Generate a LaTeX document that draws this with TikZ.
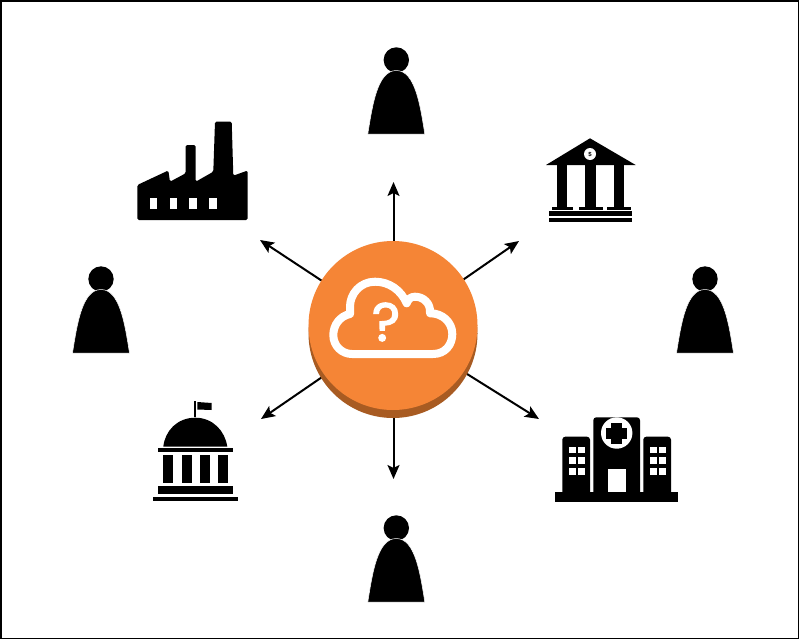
\documentclass[tikz,border=0pt]{standalone}
\usepackage{fontspec}
\setmainfont{Liberation Sans}
\newfontfamily\qfont[FakeBold=2.2]{Poppins}
\usetikzlibrary{arrows.meta}
\definecolor{huborange}{HTML}{F58536}
\definecolor{hubdark}{HTML}{A85B22}
\tikzset{
  x=1pt,y=-1pt,
  frame/.style={draw=black,line width=1.6pt},
  link/.style={draw=black,line width=2pt,-{Stealth[length=14pt,width=12pt,inset=3pt]}},
  ink/.style={fill=black,draw=none},
  soft/.style={fill=black,draw=none,rounded corners=1.5pt},
  hubdisc/.style={circle,fill=huborange,minimum size=169pt,inner sep=0pt},
  hubbase/.style={circle,fill=hubdark,minimum size=169pt,inner sep=0pt},
  cloudline/.style={draw=white,line width=8pt,line join=round,fill=none},
  person/.pic={
    \fill[black] (0,0) circle (12.7);
    \path[fill=black,draw=white,line width=0.5pt]
      (-28.5,74) .. controls (-24,46) and (-19,10.5) .. (0,10.5)
      .. controls (19,10.5) and (24,46) .. (28.5,74) -- cycle;
  }
}
\begin{document}
\begin{tikzpicture}
\useasboundingbox (0,0) rectangle (800,640);
\fill[white] (0,0) rectangle (800,640);
\draw[frame] (1,1) rectangle (798.5,638.5);

% hub
\coordinate (tipN) at (393.5,182);
\coordinate (tipNE) at (519,241);
\coordinate (tipNW) at (260,240);
\coordinate (tipSW) at (261,419);
\coordinate (tipSE) at (539,419);
\coordinate (tipS) at (393.5,479);
\node[circle,minimum size=170pt,inner sep=0pt] (hubarea) at (393.5,328) {};
\draw[link] (hubarea) -- (tipN);
\draw[link] (hubarea) -- (tipNE);
\draw[link] (hubarea) -- (tipNW);
\draw[link] (hubarea) -- (tipSW);
\draw[link] (hubarea) -- (tipSE);
\draw[link] (hubarea) -- (tipS);
\node[hubbase] (hubshadow) at (393,333.5) {};
\node[hubdisc] (hub) at (393,325.5) {};

% cloud
\draw[cloudline] (360,354) -- (433,354)
  .. controls (445,354) and (452.3,345) .. (452.3,334)
  .. controls (452.3,322) and (442,313) .. (430,313.3)
  .. controls (431,303) and (423,296.7) .. (415,296.7)
  .. controls (411,296.7) and (408,299) .. (406.7,303.3)
  .. controls (401,290) and (389,281.7) .. (375,281.7)
  .. controls (360,281.7) and (350,294) .. (350,306.7)
  -- (350,314)
  .. controls (340,316) and (333.3,325) .. (333.3,335)
  .. controls (333.3,346) and (342,354) .. (352,354) -- cycle;
\node[text=white,font=\qfont\fontsize{54pt}{54pt}\selectfont,inner sep=0pt] (question) at (386,322) {?};

% people
\pic at (396.3,60) {person};
\pic at (101,279) {person};
\pic at (705,279) {person};
\pic at (396.3,528) {person};

% factory
\path[soft] (137.3,220) -- (137.3,185) -- (168.3,170.5) -- (170,181.7) -- (185.7,173.3)
  -- (185.7,145) -- (195.7,145) -- (195.7,181.7) -- (213.3,171.7)
  -- (215,121.7) -- (231.7,121.7) -- (233.3,175.7) -- (247.7,170.5) -- (247.7,220) -- cycle;
\fill[white] (150,198.3) rectangle (156.7,209);
\fill[white] (169.5,198.3) rectangle (176.7,209);
\fill[white] (189.2,198.3) rectangle (196.7,209);
\fill[white] (208.7,198.3) rectangle (216.7,209);

% bank
\path[ink] (590,138.3) -- (635.7,165) -- (546,165) -- cycle;
\node[circle,fill=white,minimum size=12pt,inner sep=0pt,font=\bfseries\fontsize{6pt}{6pt}\selectfont] (coin) at (590,154) {\$};
\path[ink] (556.7,165) rectangle (566.7,207);
\path[ink] (585,165) rectangle (596,207);
\path[ink] (614,165) rectangle (624,207);
\path[ink] (551.7,206.7) rectangle (572.7,210);
\path[ink] (579.3,206.7) rectangle (602.7,210);
\path[ink] (607.3,206.7) rectangle (630.7,210);
\path[ink] (549.3,211) rectangle (631.7,216);
\path[ink] (549.3,217.7) rectangle (631.7,222.3);

% capitol
\draw[black,line width=1.3pt] (195,401) -- (195,417);
\path[ink] (197.3,402) -- (211.7,403) -- (211.7,410) -- (197.3,409.5) -- cycle;
\path[ink] (163.3,446.7) .. controls (165,431) and (177,417.7) .. (195.3,417.7)
  .. controls (213,417.7) and (225,431) .. (227.3,446.7) -- cycle;
\path[ink] (158.3,448.3) rectangle (232.7,452.3);
\path[ink] (163.3,455) rectangle (173.3,483.3);
\path[ink] (181.7,455) rectangle (191.7,483.3);
\path[ink] (200,455) rectangle (210,483.3);
\path[ink] (218.3,455) rectangle (228.3,483.3);
\path[ink] (158.3,485.7) rectangle (232.7,494);
\path[ink] (152.7,496.7) rectangle (238.3,501);

% hospital
\path[ink,rounded corners=3pt] (593.3,495) -- (593.3,417.3) -- (640,417.3) -- (640,495) -- cycle;
\path[ink,rounded corners=3pt] (562.3,495) -- (562.3,436.7) -- (590,436.7) -- (590,495) -- cycle;
\path[ink,rounded corners=3pt] (643.3,495) -- (643.3,436.7) -- (671,436.7) -- (671,495) -- cycle;
\path[ink] (555,492.3) rectangle (678.3,501.7);
\fill[white] (616.7,433) circle (15.7);
\path[ink] (611.2,422.5) rectangle (622.2,443.5);
\path[ink] (606.2,427.5) rectangle (627.2,438.5);
\fill[white] (607.7,469.3) rectangle (626,491.7);
\foreach \wx in {569,578.3,650,659.3}
  \foreach \wy in {446.7,457.3,468.3}
    \fill[white] (\wx,\wy) rectangle ++(6.7,6.7);
\end{tikzpicture}
\end{document}
